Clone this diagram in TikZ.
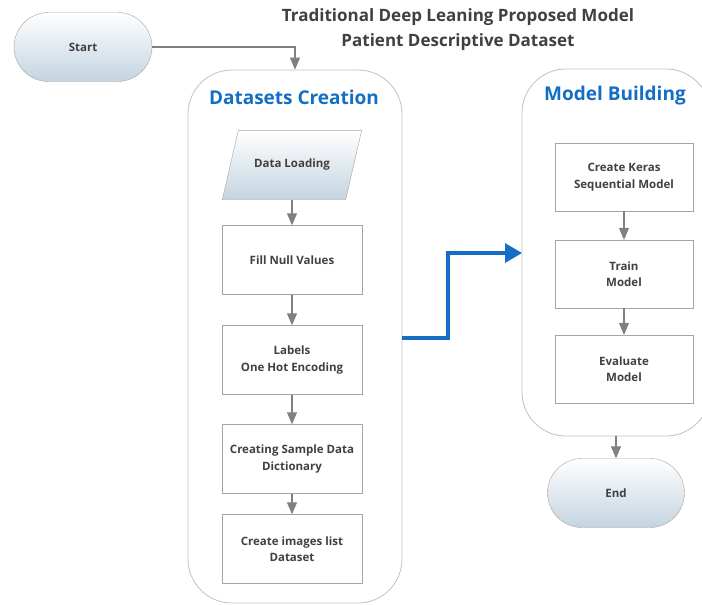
\documentclass[tikz,border=0pt]{standalone}
\usepackage{fontspec}
\setmainfont{Open Sans}
\usetikzlibrary{arrows.meta,backgrounds}

\definecolor{txtgray}{RGB}{64,64,64}
\definecolor{linegray}{RGB}{128,128,128}
\definecolor{boxgray}{RGB}{165,165,165}
\definecolor{framegray}{RGB}{192,192,192}
\definecolor{flowblue}{RGB}{20,110,195}
\definecolor{shadeblue}{RGB}{196,212,224}

\tikzset{
  stadium/.style={draw=boxgray, rounded corners=34.5pt, minimum width=138pt, minimum height=69pt,
    top color=white, bottom color=shadeblue, font=\bfseries\fontsize{11.5}{13}\selectfont, text=txtgray},
  procbox/.style={draw=boxgray, minimum width=140pt, minimum height=69pt, align=center,
    font=\bfseries\fontsize{11.5}{16.5}\selectfont, text=txtgray},
  iobox/.style={minimum width=123pt, minimum height=69pt,
    font=\bfseries\fontsize{11.5}{13}\selectfont, text=txtgray},
  iofill/.style={draw=boxgray, top color=white, bottom color=shadeblue},
  frame/.style={draw=framegray, line width=0.8pt, rounded corners=44pt},
  frametitle/.style={font=\bfseries\fontsize{19}{22}\selectfont, text=flowblue},
  garrow/.style={draw=linegray, line width=1.1pt, -{Triangle[length=12pt,width=10pt]}},
  barrow/.style={draw=flowblue, line width=3.2pt, -{Triangle[length=17pt,width=19pt]}}
}

\begin{document}
\begin{tikzpicture}[x=1pt,y=-1pt]
\useasboundingbox (0,0) rectangle (702,605);
\clip (0,0) rectangle (702,605);

% title
\node[font=\bfseries\fontsize{17}{25}\selectfont, text=txtgray, align=center] (title) at (458,30)
  {Traditional Deep Leaning Proposed Model\\Patient Descriptive Dataset};

% frames
\node[frame, minimum width=214pt, minimum height=533pt] (dsc) at (295,336.5) {};
\node[frame, minimum width=188pt, minimum height=367pt] (mb) at (616,252.5) {};
\node[frametitle] (dsct) at (294,97) {Datasets Creation};
\node[frametitle] (mbt) at (615,96) {Model Building};

% nodes
\node[stadium] (start) at (83,47) {Start};
\node[iobox] (load) at (292,165) {Data Loading};
\node[procbox] (fill) at (292,260) {Fill Null Values};
\node[procbox] (enc) at (292,360) {Labels\\One Hot Encoding};
\node[procbox] (dict) at (292,459) {Creating Sample Data\\Dictionary};
\node[procbox] (imgs) at (292,549) {Create images list\\Dataset};

\node[procbox, minimum width=138pt, minimum height=68pt] (keras) at (624,177) {Create Keras\\Sequential Model};
\node[procbox, minimum width=138pt, minimum height=68pt] (train) at (624,274) {Train\\Model};
\node[procbox, minimum width=138pt, minimum height=68pt] (eval) at (624,369) {Evaluate\\Model};
\node[stadium, minimum width=137pt] (end) at (616,493) {End};

% parallelogram behind the data loading node
\begin{scope}[on background layer]
\path[iofill] ([xshift=8pt]load.north west) -- ([xshift=8pt]load.north east)
  -- ([xshift=-8pt]load.south east) -- ([xshift=-8pt]load.south west) -- cycle;
\end{scope}

\coordinate (bs) at (402,338);
\coordinate (be) at (522,253);

% arrows
\draw[garrow] (start.east) -| (dsc.north);
\draw[garrow] (load) -- (fill);
\draw[garrow] (fill) -- (enc);
\draw[garrow] (enc) -- (dict);
\draw[garrow] (dict) -- (imgs);
\draw[garrow] (keras) -- (train);
\draw[garrow] (train) -- (eval);
\draw[garrow] (mb.south) -- (end.north);
\draw[barrow] (bs) -- ++(46,0) |- (be);
\end{tikzpicture}
\end{document}
